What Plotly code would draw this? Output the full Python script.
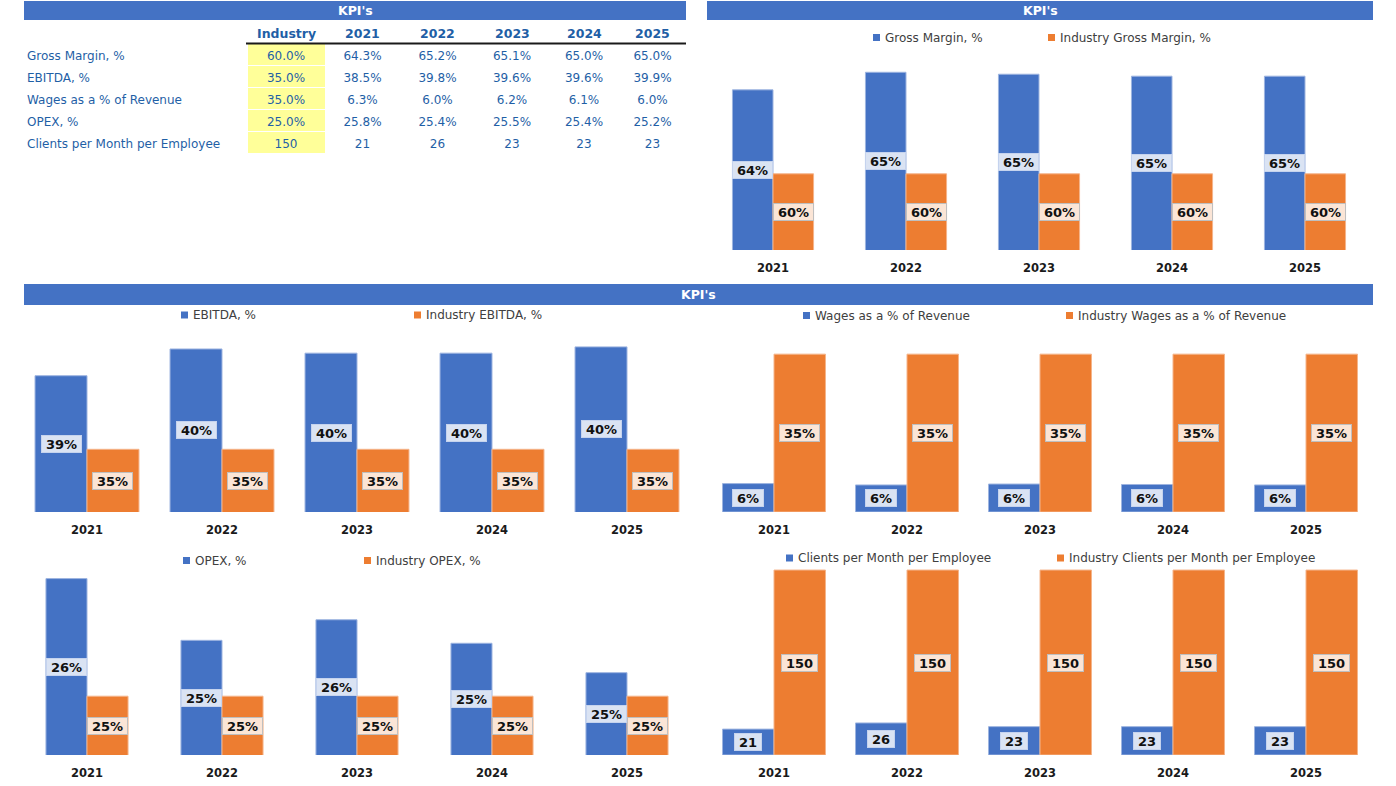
import math
import plotly.graph_objects as go

W, H = 1396, 786

# ---------------- data ----------------
years = ["2021", "2022", "2023", "2024", "2025"]
kpi_names = ["Gross Margin, %", "EBITDA, %", "Wages as a % of Revenue", "OPEX, %",
             "Clients per Month per Employee"]
industry = [60.0, 35.0, 35.0, 25.0, 150]
gross_margin = [64.3, 65.2, 65.1, 65.0, 65.0]
ebitda = [38.52, 39.8, 39.6, 39.6, 39.9]
wages = [6.3, 6.0, 6.2, 6.1, 6.0]
opex = [25.80, 25.38, 25.52, 25.36, 25.16]
clients = [21, 26, 23, 23, 23]
series = [gross_margin, ebitda, wages, opex, clients]
kinds = ["pct", "pct", "pct", "pct", "num"]
table_header = ["Industry"] + years

# ---------------- styles ----------------
BLUE = "#4472C4"
ORANGE = "#ED7D31"
BLUE_EDGE = "#9DB4E0"
ORANGE_EDGE = "#F5B48A"
TXT_BLUE = "#1F5FA6"
FONT = "DejaVu Sans, Verdana, sans-serif"


def fx(px):
    return px / W


def fy(py):
    return 1 - py / H


def half_up(v):
    return int(math.floor(v + 0.5))


def label_text(v, kind):
    return f"{half_up(v)}%" if kind == "pct" else f"{half_up(v)}"


def table_text(v, kind):
    return f"{v:.1f}%" if kind == "pct" else f"{v:.0f}"


def text_w(s, size=13):
    w = 0.0
    for ch in s:
        w += 1.002 if ch == "%" else 0.696
    return w * size


# per chart layout (pixel geometry)
geo = [
    dict(x0=706.5, x1=1371.5, ybot=250, ppu=19.53, yr=(56.1, 66), bw=0.305, leg_y=37.5, leg_sq=(873, 1048)),
    dict(x0=19.5, x1=694.5, ybot=512, ppu=20.9, yr=(32, 41), bw=0.385, leg_y=315, leg_sq=(181, 414)),
    dict(x0=707.5, x1=1372.5, ybot=512, ppu=4.51, yr=(0, 40), bw=0.387, leg_y=315.5, leg_sq=(803, 1066)),
    dict(x0=19.5, x1=694.5, ybot=755, ppu=147, yr=(24.6, 26.0), bw=0.304, leg_y=560.5, leg_sq=(183, 364)),
    dict(x0=707.5, x1=1372.5, ybot=755, ppu=1.233, yr=(0, 160), bw=0.387, leg_y=558, leg_sq=(786, 1057)),
]

fig = go.Figure()
shapes = []
annotations = []
layout_axes = {}

for k, (vals, ind, name, kind, g) in enumerate(zip(series, industry, kpi_names, kinds, geo), start=1):
    xa = "x" if k == 1 else f"x{k}"
    ya = "y" if k == 1 else f"y{k}"
    n = len(years)
    bw = g["bw"]
    ind_vals = [ind] * n
    fig.add_trace(go.Bar(
        x=years, y=vals, name=name, xaxis=xa, yaxis=ya,
        width=[bw] * n, offset=-bw, showlegend=False,
        marker=dict(color=BLUE, line=dict(color=BLUE_EDGE, width=1)),
    ))
    fig.add_trace(go.Bar(
        x=years, y=ind_vals, name="Industry " + name, xaxis=xa, yaxis=ya,
        width=[bw] * n, offset=0, showlegend=False,
        marker=dict(color=ORANGE, line=dict(color=ORANGE_EDGE, width=1)),
    ))
    ymin, ymax = g["yr"]
    ytop = g["ybot"] - g["ppu"] * (ymax - ymin)
    layout_axes["xaxis" + ("" if k == 1 else str(k))] = dict(
        domain=[fx(g["x0"]), fx(g["x1"])], anchor=ya, type="category",
        range=[-0.5, n - 0.5], showgrid=False, showline=False, zeroline=False,
        ticks="outside", ticklen=7, tickcolor="rgba(0,0,0,0)",
        tickfont=dict(family=FONT, size=11.5, color="#1a1a1a", weight="bold"),
        fixedrange=True,
    )
    layout_axes["yaxis" + ("" if k == 1 else str(k))] = dict(
        domain=[fy(g["ybot"]), fy(ytop)], anchor=xa, range=[ymin, ymax],
        visible=False, showgrid=False, zeroline=False, fixedrange=True,
    )
    # data labels (centred in the visible part of each bar)
    for i in range(n):
        for v, dx, bg, bc in ((vals[i], -bw / 2, "#DAE3F3", "#C5D3EE"),
                              (ind_vals[i], bw / 2, "#FBE5D6", "#BFBFBF")):
            t = label_text(v, kind)
            annotations.append(dict(
                x=i + dx, y=(ymin + v) / 2, xref=xa, yref=ya, text=t, showarrow=False,
                font=dict(family=FONT, size=13, color="#111111", weight="bold"),
                bgcolor=bg, bordercolor=bc, borderwidth=1, borderpad=1,
                width=text_w(t) + 6, height=14, xanchor="center", yanchor="middle",
            ))
    # legend (square + text)
    for sqx, col, txt in ((g["leg_sq"][0], BLUE, name), (g["leg_sq"][1], ORANGE, "Industry " + name)):
        shapes.append(dict(type="rect", xref="paper", yref="paper",
                           x0=fx(sqx), x1=fx(sqx + 7), y0=fy(g["leg_y"] + 3.5), y1=fy(g["leg_y"] - 3.5),
                           fillcolor=col, line=dict(width=0)))
        annotations.append(dict(x=fx(sqx + 10), y=fy(g["leg_y"]), xref="paper", yref="paper",
                                text=txt, showarrow=False, xanchor="left", yanchor="middle",
                                font=dict(family=FONT, size=12, color="#404040")))

# ---------------- title bars ----------------
for (x0, x1, y0, y1) in ((24, 686, 1, 20), (707, 1373, 1, 20), (24, 1373, 284, 305)):
    shapes.append(dict(type="rect", xref="paper", yref="paper", x0=fx(x0), x1=fx(x1),
                       y0=fy(y1), y1=fy(y0), fillcolor=BLUE, line=dict(width=0), layer="below"))
    annotations.append(dict(x=fx((x0 + x1) / 2), y=fy((y0 + y1) / 2), xref="paper", yref="paper",
                            text="KPI's", showarrow=False, xanchor="center", yanchor="middle",
                            font=dict(family=FONT, size=12.5, color="white", weight="bold")))

# ---------------- KPI table ----------------
TBL_X0, TBL_X1 = 19, 686
col_widths = [228, 78, 75, 75, 74, 70, 67]
col_label = list(kpi_names)
col_ind = [table_text(v, kd) for v, kd in zip(industry, kinds)]
year_cols = [[table_text(s[j], kd) for s, kd in zip(series, kinds)] for j in range(len(years))]
cells_vals = [col_label, col_ind] + year_cols
nrows = len(kpi_names)
fills = [["white"] * nrows, ["#FFFF99"] * nrows] + [["white"] * nrows for _ in years]

fig.add_trace(go.Table(
    domain=dict(x=[fx(TBL_X0), fx(TBL_X1)], y=[fy(170), fy(27)]),
    columnwidth=col_widths,
    header=dict(values=[], height=0, line=dict(color="rgba(0,0,0,0)", width=0),
                fill_color="rgba(0,0,0,0)"),
    cells=dict(values=cells_vals, fill_color=fills, line=dict(color="white", width=1),
               font=dict(family=FONT, size=12, color=TXT_BLUE),
               align=["left"] + ["center"] * 6, height=22),
))
# header row (bold) above the numeric columns
scale = (TBL_X1 - TBL_X0) / sum(col_widths)
edge = TBL_X0 + col_widths[0] * scale
for lbl, cw in zip(table_header, col_widths[1:]):
    cx = edge + cw * scale / 2
    annotations.append(dict(x=fx(cx), y=fy(33), xref="paper", yref="paper", text=lbl,
                            showarrow=False, xanchor="center", yanchor="middle",
                            font=dict(family=FONT, size=12.5, color=TXT_BLUE, weight="bold")))
    edge += cw * scale
shapes.append(dict(type="line", xref="paper", yref="paper", x0=fx(246), x1=fx(686),
                   y0=fy(43.5), y1=fy(43.5), line=dict(color="#1a1a1a", width=2)))

fig.update_layout(
    width=W, height=H, margin=dict(l=0, r=0, t=0, b=0),
    paper_bgcolor="white", plot_bgcolor="white",
    barmode="overlay", showlegend=False,
    shapes=shapes, annotations=annotations,
    font=dict(family=FONT),
    **layout_axes,
)

fig.write_html("out.html", config={"displayModeBar": False},
               post_script="document.body.style.margin='0';document.body.style.overflow='hidden';")
